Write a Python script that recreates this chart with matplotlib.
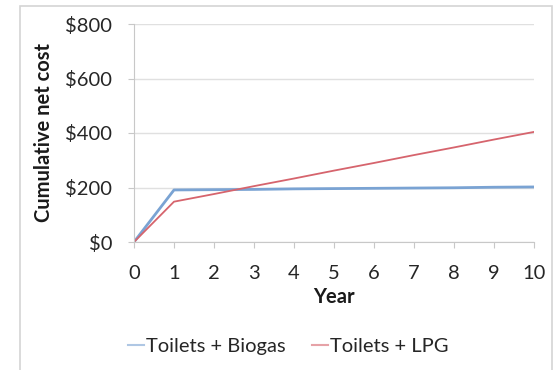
import matplotlib
matplotlib.use("Agg")
import matplotlib.pyplot as plt
from matplotlib.patches import Rectangle

years = [0, 1, 2, 3, 4, 5, 6, 7, 8, 9, 10]
biogas = [0, 191, 192, 193, 195, 196, 197, 198, 199, 201, 202]
lpg = [0, 148, 176, 205, 233, 262, 290, 319, 347, 376, 404]
yticks = [0, 200, 400, 600, 800]
ytick_labels = ["$0", "$200", "$400", "$600", "$800"]

plt.rcParams['font.family'] = ['Lato', 'DejaVu Sans']
fs = 14.5

fig = plt.figure(figsize=(5.56, 3.70), dpi=100)
ax = fig.add_axes([134 / 556, 1 - 242 / 370, 400 / 556, 218 / 370])

# outer chart frame (bottom edge runs off the image)
fig.patches.append(Rectangle((20 / 556, -0.02), 532 / 556, 1.02 - 6 / 370,
                             transform=fig.transFigure, fill=False,
                             ec='#d4d4d4', lw=1.2))

ax.plot(years, biogas, color='#7aa3d3', lw=2.0, label='Toilets + Biogas')
ax.plot(years, lpg, color='#d6646d', lw=1.3, label='Toilets + LPG')

ax.set_xlim(0, 10)
ax.set_ylim(0, 800)
ax.set_xticks(years)
ax.set_yticks(yticks)
ax.set_yticklabels(ytick_labels)
ax.grid(axis='y', color='#e0e0e0', lw=1.0)
ax.set_axisbelow(True)
for s in ['top', 'right']:
    ax.spines[s].set_visible(False)
for s in ['left', 'bottom']:
    ax.spines[s].set_color('#c8c8c8')
ax.tick_params(axis='both', colors='#c8c8c8', labelcolor='#262626', labelsize=fs,
               length=4.5, direction='out')
ax.tick_params(axis='x', pad=12)
ax.tick_params(axis='y', pad=11)

ax.set_xlabel('Year', fontsize=fs, fontweight='bold', labelpad=4, color='#1a1a1a')
ax.set_ylabel('Cumulative net cost', fontsize=fs, fontweight='bold', labelpad=8,
              color='#1a1a1a')

leg = fig.legend(loc='center', bbox_to_anchor=(288 / 556, 1 - 346 / 370), ncol=2,
                 frameon=False, fontsize=fs, handlelength=0.8, handletextpad=0.1,
                 columnspacing=1.3, labelcolor='#262626')
for h in leg.get_lines():
    h.set_alpha(0.6)
    h.set_linewidth(1.5)

fig.savefig('out.png', dpi=100)
